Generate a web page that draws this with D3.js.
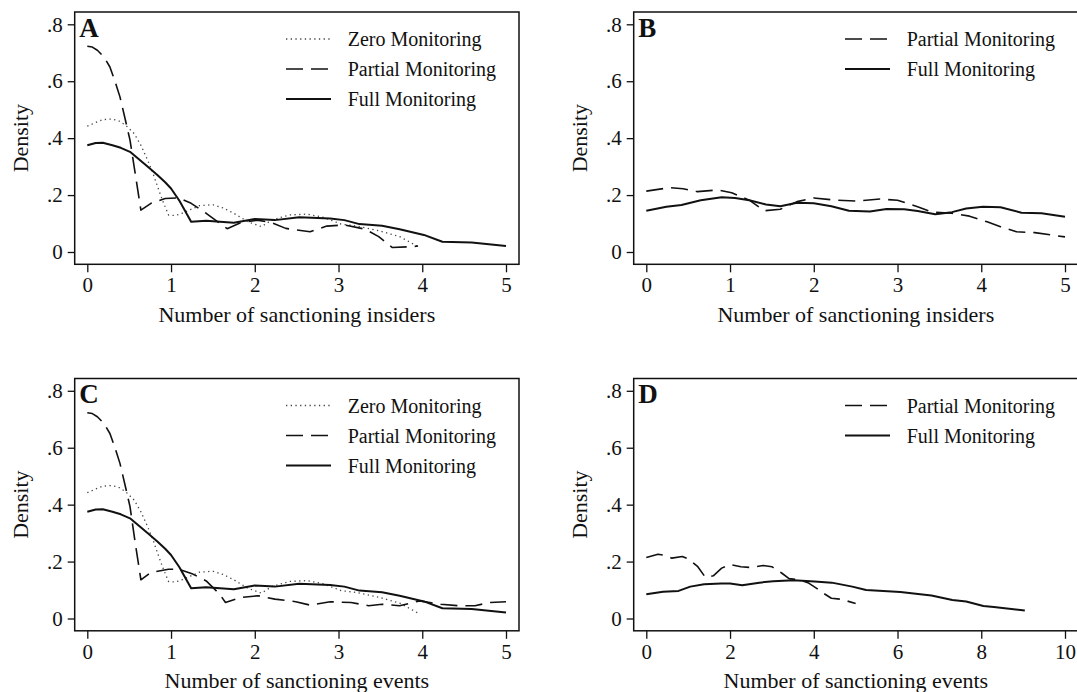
<!DOCTYPE html>
<html>
<head>
<meta charset="utf-8">
<script src="https://cdn.jsdelivr.net/npm/d3@7"></script>
<style>
  body { margin: 0; background: #fff; }
  text { font-family: "Liberation Serif", "Times New Roman", serif; fill: #111; }
</style>
</head>
<body>
<div id="app"></div>
<script>
// kernel density estimates, [x, density]
const zeroInsiders = [[0,.442],[.1,.455],[.185,.465],[.28,.467],[.37,.462],[.46,.445],[.56,.416],[.64,.375],[.72,.323],[.78,.28],[.84,.229],[.9,.18],[.97,.13],[1.05,.128],[1.13,.136],[1.24,.15],[1.34,.163],[1.5,.166],[1.62,.155],[1.75,.136],[1.92,.106],[2.08,.089],[2.2,.112],[2.41,.13],[2.62,.133],[2.82,.122],[3.03,.098],[3.23,.091],[3.48,.075],[3.73,.054],[3.95,.019]];
const partialInsidersA = [[0,.723],[.06,.72],[.12,.709],[.2,.685],[.27,.65],[.33,.6],[.39,.545],[.45,.47],[.51,.393],[.57,.28],[.64,.147],[.76,.171],[.93,.188],[1.09,.19],[1.24,.171],[1.42,.136],[1.67,.082],[1.83,.103],[2.03,.112],[2.2,.103],[2.37,.083],[2.66,.071],[2.86,.091],[3.07,.095],[3.32,.08],[3.48,.054],[3.64,.016],[3.89,.019],[3.95,.021]];
const fullInsidersA = [[0,.375],[.1,.383],[.185,.384],[.3,.375],[.4,.366],[.51,.352],[.62,.325],[.73,.298],[.84,.27],[.93,.245],[1,.223],[1.1,.18],[1.24,.106],[1.42,.11],[1.75,.103],[2,.116],[2.24,.112],[2.53,.122],[2.9,.118],[3.07,.112],[3.25,.098],[3.52,.092],[3.73,.08],[4.02,.06],[4.24,.036],[4.59,.033],[5,.021]];

const partialInsidersB = [[0,.214],[.28,.226],[.44,.222],[.61,.212],[.86,.218],[1.02,.208],[1.23,.182],[1.41,.145],[1.6,.15],[1.8,.177],[2,.19],[2.26,.182],[2.5,.179],[2.79,.186],[3,.182],[3.24,.159],[3.41,.14],[3.65,.136],[3.86,.126],[4.07,.106],[4.23,.089],[4.42,.071],[4.64,.068],[5,.053]];
const fullInsidersB = [[0,.145],[.24,.159],[.42,.165],[.65,.182],[.9,.192],[1.06,.19],[1.23,.182],[1.43,.167],[1.6,.161],[1.8,.173],[2,.171],[2.21,.161],[2.42,.145],[2.67,.142],[2.87,.151],[3.08,.15],[3.24,.144],[3.45,.133],[3.65,.14],[3.82,.153],[4.02,.159],[4.23,.157],[4.48,.138],[4.72,.136],[5,.124]];

// panel C: zero and full curves are the same as in A
const partialEventsC = [[0,.723],[.06,.72],[.12,.709],[.2,.685],[.27,.65],[.33,.6],[.39,.545],[.45,.47],[.51,.393],[.57,.27],[.64,.136],[.76,.162],[.97,.173],[1.09,.173],[1.26,.156],[1.42,.132],[1.58,.086],[1.65,.056],[1.83,.074],[2.04,.08],[2.24,.068],[2.49,.059],[2.66,.047],[2.9,.059],[3.15,.056],[3.36,.045],[3.52,.05],[3.73,.045],[3.97,.062],[4.22,.05],[4.43,.045],[4.63,.045],[4.8,.056],[5,.059]];

// panel D: partial curve is the same as in B
const fullEventsD = [[0,.085],[.4,.094],[.77,.097],[1.05,.112],[1.38,.12],[1.79,.123],[2,.123],[2.29,.117],[2.7,.126],[3.03,.131],[3.52,.134],[4.02,.13],[4.43,.126],[4.92,.112],[5.25,.1],[5.66,.097],[6.07,.093],[6.49,.086],[6.81,.081],[7.31,.065],[7.64,.06],[8.05,.044],[8.3,.04],[9.04,.028]];

const yTicks = [0, .2, .4, .6, .8];
const yTickLabels = ['0', '.2', '.4', '.6', '.8'];
const xTicksSmall = [0, 1, 2, 3, 4, 5];
const xTicksLarge = [0, 2, 4, 6, 8, 10];

const styles = {
  'Zero Monitoring': { width: 1.3, dash: '1.3,3.4', color: '#444' },
  'Partial Monitoring': { width: 1.6, dash: '17,8', color: '#111' },
  'Full Monitoring': { width: 2, dash: null, color: '#111' }
};

const panels = [
  { letter: 'A', x: 74.7, y: 12, xMax: 5, xTicks: xTicksSmall, xLabel: 'Number of sanctioning insiders',
    series: [['Zero Monitoring', zeroInsiders], ['Partial Monitoring', partialInsidersA], ['Full Monitoring', fullInsidersA]] },
  { letter: 'B', x: 633.7, y: 12, xMax: 5, xTicks: xTicksSmall, xLabel: 'Number of sanctioning insiders',
    series: [['Partial Monitoring', partialInsidersB], ['Full Monitoring', fullInsidersB]] },
  { letter: 'C', x: 74.7, y: 378.5, xMax: 5, xTicks: xTicksSmall, xLabel: 'Number of sanctioning events',
    series: [['Zero Monitoring', zeroInsiders], ['Partial Monitoring', partialEventsC], ['Full Monitoring', fullInsidersA]] },
  { letter: 'D', x: 633.7, y: 378.5, xMax: 10, xTicks: xTicksLarge, xLabel: 'Number of sanctioning events',
    series: [['Partial Monitoring', partialInsidersB], ['Full Monitoring', fullEventsD]] }
];

const frameW = 444.3, frameH = 252.3;
const svg = d3.select('#app').append('svg').attr('width', 1077).attr('height', 692);

panels.forEach(p => {
  const g = svg.append('g').attr('transform', `translate(${p.x},${p.y})`);
  const x = d3.scaleLinear().domain([0, p.xMax]).range([12.6, 431.3]);
  const y = d3.scaleLinear().domain([0, 0.8]).range([240, 12.3]);

  // frame
  g.append('rect').attr('width', frameW).attr('height', frameH)
    .attr('fill', 'none').attr('stroke', '#111').attr('stroke-width', 1.5);

  // axes
  const ya = g.append('g')
    .call(d3.axisLeft(y).tickValues(yTicks).tickFormat((d, i) => yTickLabels[i]).tickSize(7).tickPadding(5));
  const xa = g.append('g').attr('transform', `translate(0,${frameH})`)
    .call(d3.axisBottom(x).tickValues(p.xTicks).tickFormat(d3.format('d')).tickSize(8).tickPadding(5));
  [ya, xa].forEach(a => {
    a.select('.domain').remove();
    a.selectAll('line').attr('stroke', '#111').attr('stroke-width', 1.3);
    a.selectAll('text').attr('font-size', 21).attr('font-family', null).attr('fill', '#111');
  });

  // axis titles
  g.append('text').attr('x', frameW / 2).attr('y', frameH + 57.5)
    .attr('text-anchor', 'middle').attr('font-size', 22).text(p.xLabel);
  g.append('text').attr('transform', `translate(-47,${frameH / 2}) rotate(-90)`)
    .attr('text-anchor', 'middle').attr('font-size', 22).text('Density');

  // panel letter
  g.append('text').attr('x', 4.6).attr('y', 24.7)
    .attr('font-size', 27).attr('font-weight', 700).text(p.letter);

  // density lines
  const line = d3.line().x(d => x(d[0])).y(d => y(d[1]));
  p.series.forEach(([name, pts]) => {
    const s = styles[name];
    g.append('path').datum(pts).attr('d', line)
      .attr('fill', 'none').attr('stroke', s.color).attr('stroke-width', s.width)
      .attr('stroke-dasharray', s.dash).attr('stroke-linejoin', 'round');
  });

  // legend
  p.series.forEach(([name], i) => {
    const s = styles[name];
    const ly = 27 + i * 30;
    g.append('line').attr('x1', 211.3).attr('x2', 256.3).attr('y1', ly).attr('y2', ly)
      .attr('stroke', s.color).attr('stroke-width', s.width).attr('stroke-dasharray', s.dash);
    g.append('text').attr('x', 273).attr('y', ly).attr('dy', '0.35em')
      .attr('font-size', 20).text(name);
  });
});
</script>
</body>
</html>
